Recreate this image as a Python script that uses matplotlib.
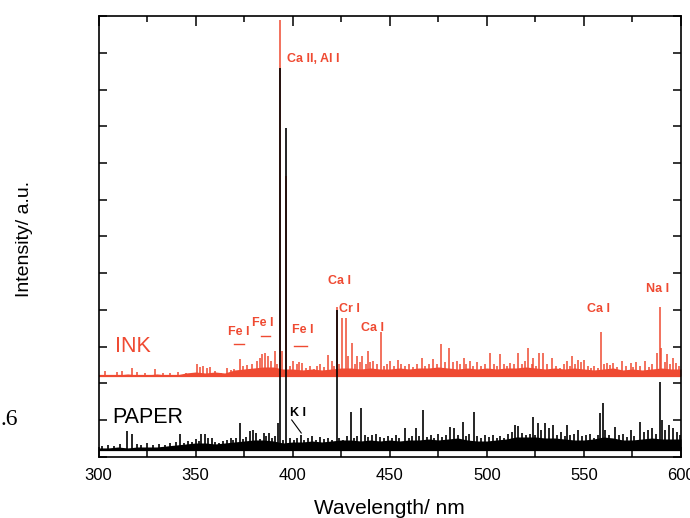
"""
Recreate the emission spectra of INK and PAPER.

INK spectrum is drawn with an offset above the PAPER spectrum.
"""

import matplotlib.pyplot as plt
from matplotlib.ticker import MultipleLocator

# 基線の高さ (a.u.)
INK_BASE = 81
PAPER_BASE = 7

# INK のピーク (波長 nm, 基線からの高さ a.u.)
ink_peaks = [
    (303.4, 5), (309.4, 4), (312.0, 5), (317.0, 8), (319.7, 4), (324.0, 3),
    (329.0, 7), (333.0, 3), (337.0, 3), (341.0, 4), (345.0, 3), (350.6, 12),
    (352.5, 9), (354.0, 10), (356.0, 8), (357.5, 9), (360.0, 5), (363.0, 3),
    (366.0, 8), (368.0, 6), (370.0, 7), (371.5, 5), (373.0, 17), (374.5, 10),
    (376.5, 11), (379.0, 12), (381.5, 15), (383.0, 18), (384.0, 22),
    (385.8, 23), (387.4, 20), (389.0, 15), (391.0, 25), (392.0, 12),
    (393.4, 356), (394.4, 25), (396.8, 200), (398.5, 10), (400.0, 15),
    (402.0, 12), (403.5, 14), (405.0, 13), (407.0, 8), (409.0, 10),
    (411.0, 7), (412.5, 10), (414.0, 12), (416.0, 9), (418.0, 21),
    (420.0, 15), (421.5, 10), (422.7, 69), (424.0, 12), (425.4, 58),
    (427.5, 58), (428.5, 20), (430.5, 33), (432.0, 12), (433.0, 20),
    (434.5, 14), (435.7, 20), (437.5, 12), (439.0, 25), (440.0, 14),
    (441.5, 15), (443.5, 12), (445.5, 44), (447.0, 10), (448.5, 12),
    (450.0, 15), (452.0, 10), (454.4, 16), (456.0, 12), (458.0, 10),
    (460.0, 12), (462.0, 9), (464.0, 12), (466.6, 18), (468.0, 10),
    (470.0, 12), (472.4, 17), (474.5, 12), (476.5, 32), (478.5, 14),
    (480.7, 28), (482.5, 14), (484.6, 15), (486.0, 12), (488.0, 18),
    (489.5, 12), (491.5, 15), (493.0, 10), (495.0, 14), (497.0, 10),
    (499.0, 12), (501.8, 23), (503.5, 12), (505.0, 10), (507.0, 22),
    (509.0, 12), (510.5, 10), (512.0, 13), (514.0, 12), (516.0, 23),
    (518.0, 12), (519.5, 15), (521.4, 28), (523.0, 12), (524.0, 18),
    (525.5, 10), (527.0, 23), (529.0, 23), (531.0, 12), (533.6, 18),
    (535.5, 10), (537.5, 8), (539.5, 12), (541.5, 15), (543.0, 10),
    (544.0, 20), (545.5, 12), (547.0, 16), (548.5, 14), (550.0, 16),
    (552.0, 10), (553.5, 8), (555.0, 10), (557.0, 8), (558.9, 44),
    (560.5, 12), (562.0, 13), (563.5, 11), (565.0, 13), (567.0, 9),
    (569.7, 15), (571.5, 10), (574.0, 13), (575.5, 9), (577.0, 14),
    (579.0, 10), (581.7, 15), (583.5, 9), (585.0, 12), (587.7, 23),
    (589.0, 69), (589.6, 28), (591.5, 14), (593.0, 22), (594.5, 12),
    (596.0, 18), (597.5, 13), (599.0, 10),
]

# PAPER のピーク (波長 nm, 基線からの高さ a.u.)
paper_peaks = [
    (302.0, 4), (305.0, 5), (308.0, 4), (311.0, 6), (314.5, 19), (317.0, 16),
    (320.0, 6), (322.0, 5), (325.0, 7), (328.0, 5), (331.0, 6), (334.0, 5),
    (337.0, 7), (340.0, 8), (342.0, 16), (344.0, 7), (346.0, 9), (348.0, 8),
    (350.0, 11), (351.5, 9), (353.0, 16), (355.0, 16), (356.5, 12),
    (358.3, 12), (360.0, 8), (362.0, 7), (364.0, 9), (366.0, 10),
    (368.0, 12), (369.5, 10), (371.0, 12), (373.0, 27), (374.5, 11),
    (376.0, 13), (378.0, 19), (379.7, 20), (381.0, 17), (383.0, 11),
    (385.0, 17), (386.5, 14), (388.0, 17), (389.5, 12), (391.0, 14),
    (392.5, 27), (393.4, 382), (395.0, 10), (396.8, 322), (398.7, 12),
    (400.5, 10), (402.0, 12), (404.4, 15), (406.0, 10), (408.0, 12),
    (410.0, 14), (412.0, 10), (414.0, 13), (416.0, 11), (418.0, 12),
    (420.0, 10), (422.7, 140), (424.0, 12), (426.0, 10), (428.0, 14),
    (430.0, 38), (431.5, 12), (433.0, 14), (435.0, 42), (437.0, 15),
    (439.0, 13), (441.0, 15), (443.0, 16), (445.0, 13), (447.0, 12),
    (449.0, 14), (451.0, 12), (453.0, 15), (455.0, 12), (458.0, 22),
    (460.0, 12), (461.5, 14), (463.7, 22), (465.0, 14), (467.0, 40),
    (469.0, 13), (471.0, 15), (473.0, 12), (475.0, 16), (477.0, 13),
    (479.0, 15), (481.0, 23), (483.0, 22), (485.0, 15), (487.7, 28),
    (489.5, 14), (491.0, 16), (493.2, 38), (495.0, 14), (497.0, 12),
    (499.0, 15), (501.0, 13), (503.0, 15), (505.0, 12), (507.0, 14),
    (509.0, 12), (511.0, 16), (513.0, 18), (514.7, 25), (516.0, 24),
    (518.0, 17), (520.0, 15), (522.0, 16), (523.8, 33), (525.0, 15),
    (526.5, 27), (528.0, 20), (530.0, 27), (532.0, 22), (534.0, 25),
    (536.0, 15), (538.0, 18), (540.0, 14), (541.3, 25), (543.0, 15),
    (545.0, 16), (547.0, 20), (549.0, 14), (551.0, 15), (553.0, 16),
    (555.0, 12), (557.0, 15), (558.5, 37), (559.8, 47), (561.0, 20),
    (563.0, 15), (566.0, 23), (568.0, 15), (570.0, 16), (572.0, 13),
    (574.0, 20), (576.0, 14), (579.0, 28), (581.0, 18), (583.0, 20),
    (585.0, 22), (587.0, 16), (589.1, 68), (590.3, 30), (592.0, 20),
    (594.0, 25), (596.0, 22), (598.0, 18), (599.5, 15),
]

# 細かいノイズの帯の高さ (5 nm ごと, a.u.)
noise_wl = list(range(300, 601, 5))
ink_noise = [
    1, 1, 1, 2, 1, 1, 2, 1, 1,
    3, 4, 3, 4, 3,
    6, 7, 8, 9, 9, 7,
    7, 6, 7, 6, 7, 8, 8, 7, 8, 7,
    7, 8, 7, 8, 8, 9, 8, 7, 8, 7,
    8, 7, 8, 8, 9, 8, 7, 8, 7, 8,
    7, 6, 7, 8, 6, 7, 6, 7, 8, 7, 7,
]
paper_noise = [
    2, 2, 3, 2, 3, 3, 3, 4, 5,
    6, 7, 7, 6, 7,
    8, 9, 10, 10, 9, 7,
    8, 8, 9, 8, 9, 10, 10, 9, 10, 9,
    10, 9, 10, 10, 11, 10, 11, 12, 10, 9,
    9, 10, 11, 13, 13, 13, 12, 12, 11, 10,
    10, 11, 13, 12, 10, 10, 11, 12, 11, 11, 11,
]

RED = "#ef4a32"


def draw_spectrum(ax, peaks, noise, base, color, lw):
    """
    Draw a stick spectrum on a baseline.

    Parameters
    ----------
    ax : matplotlib axes
    peaks (list): (波長, 高さ) のリスト
    noise (list): ノイズの帯の高さ
    base (float): 基線
    color (str): 色
    lw (float): 線幅
    """
    ny = [base + h for h in noise]
    ax.fill_between(noise_wl, base, ny, color=color, lw=0)
    ax.axhline(base, color=color, lw=1.6)
    wl = [p[0] for p in peaks]
    top = [base + p[1] for p in peaks]
    ax.vlines(wl, base, top, color=color, lw=lw)


def main():
    """Plot INK and PAPER spectra."""
    plt.rcParams["font.family"] = ["Liberation Sans", "DejaVu Sans"]
    fig = plt.figure(figsize=(6.9, 5.18), dpi=100)
    ax = fig.add_axes([0.1428, 0.1178, 0.8442, 0.8513])

    draw_spectrum(ax, ink_peaks, ink_noise, INK_BASE, RED, 1.1)
    draw_spectrum(ax, paper_peaks, paper_noise, PAPER_BASE, "black", 1.2)

    ax.set_xlim(300, 600)
    ax.set_ylim(0, 441)
    ax.xaxis.set_major_locator(MultipleLocator(50))
    ax.xaxis.set_minor_locator(MultipleLocator(25))
    ax.yaxis.set_major_locator(MultipleLocator(36.75))
    ax.set_yticklabels([])
    ax.tick_params(which="both", direction="in", top=True, right=True,
                   width=1.1, labelsize=12)
    ax.tick_params(axis="x", which="major", length=7, pad=8)
    ax.tick_params(axis="x", which="minor", length=4.5)
    ax.tick_params(axis="y", which="major", length=5.5)
    for sp in ax.spines.values():
        sp.set_linewidth(1.2)

    ax.set_xlabel("Wavelength/ nm", fontsize=15)
    ax.xaxis.set_label_coords(0.5, -0.095)
    ax.set_ylabel("Intensity/ a.u.", fontsize=14)
    ax.yaxis.set_label_coords(-0.112, 0.494)

    # 元素ラベル
    red_labels = [
        ("Fe I", 372.0, 125), ("Fe I", 384.8, 134), ("Fe I", 405.2, 127),
        ("Ca I", 424.0, 176), ("Ca I", 441.3, 129),
        ("Ca I", 557.5, 148), ("Na I", 588.1, 168),
    ]
    for txt, x, y in red_labels:
        ax.text(x, y, txt, color=RED, fontsize=9, fontweight="bold",
                ha="center", va="center")
    ax.text(397.3, 398, "Ca II, Al I", color=RED, fontsize=9,
            fontweight="bold", ha="left", va="center")
    ax.text(424.0, 148, "Cr I", color=RED, fontsize=9,
            fontweight="bold", ha="left", va="center")
    for x0, x1, y in [(370.0, 375.0, 113), (383.8, 388.4, 121),
                      (400.8, 407.5, 111)]:
        ax.plot([x0, x1], [y, y], color=RED, lw=1.0)

    ax.text(317.8, 110, "INK", color=RED, fontsize=15.5, ha="center",
            va="center")
    ax.text(325.5, 39, "PAPER", color="black", fontsize=15.5, ha="center",
            va="center")
    ax.text(402.8, 44, "K I", color="black", fontsize=9,
            fontweight="bold", ha="center", va="center")
    ax.plot([399.5, 404.4], [37, 24], color="black", lw=0.8)

    # スキャン時に写り込んだ図番号
    fig.text(0.0, 0.19, ".6", fontsize=17, family="Liberation Serif",
             ha="left", va="center")

    fig.savefig("out.png")


if __name__ == "__main__":
    main()
